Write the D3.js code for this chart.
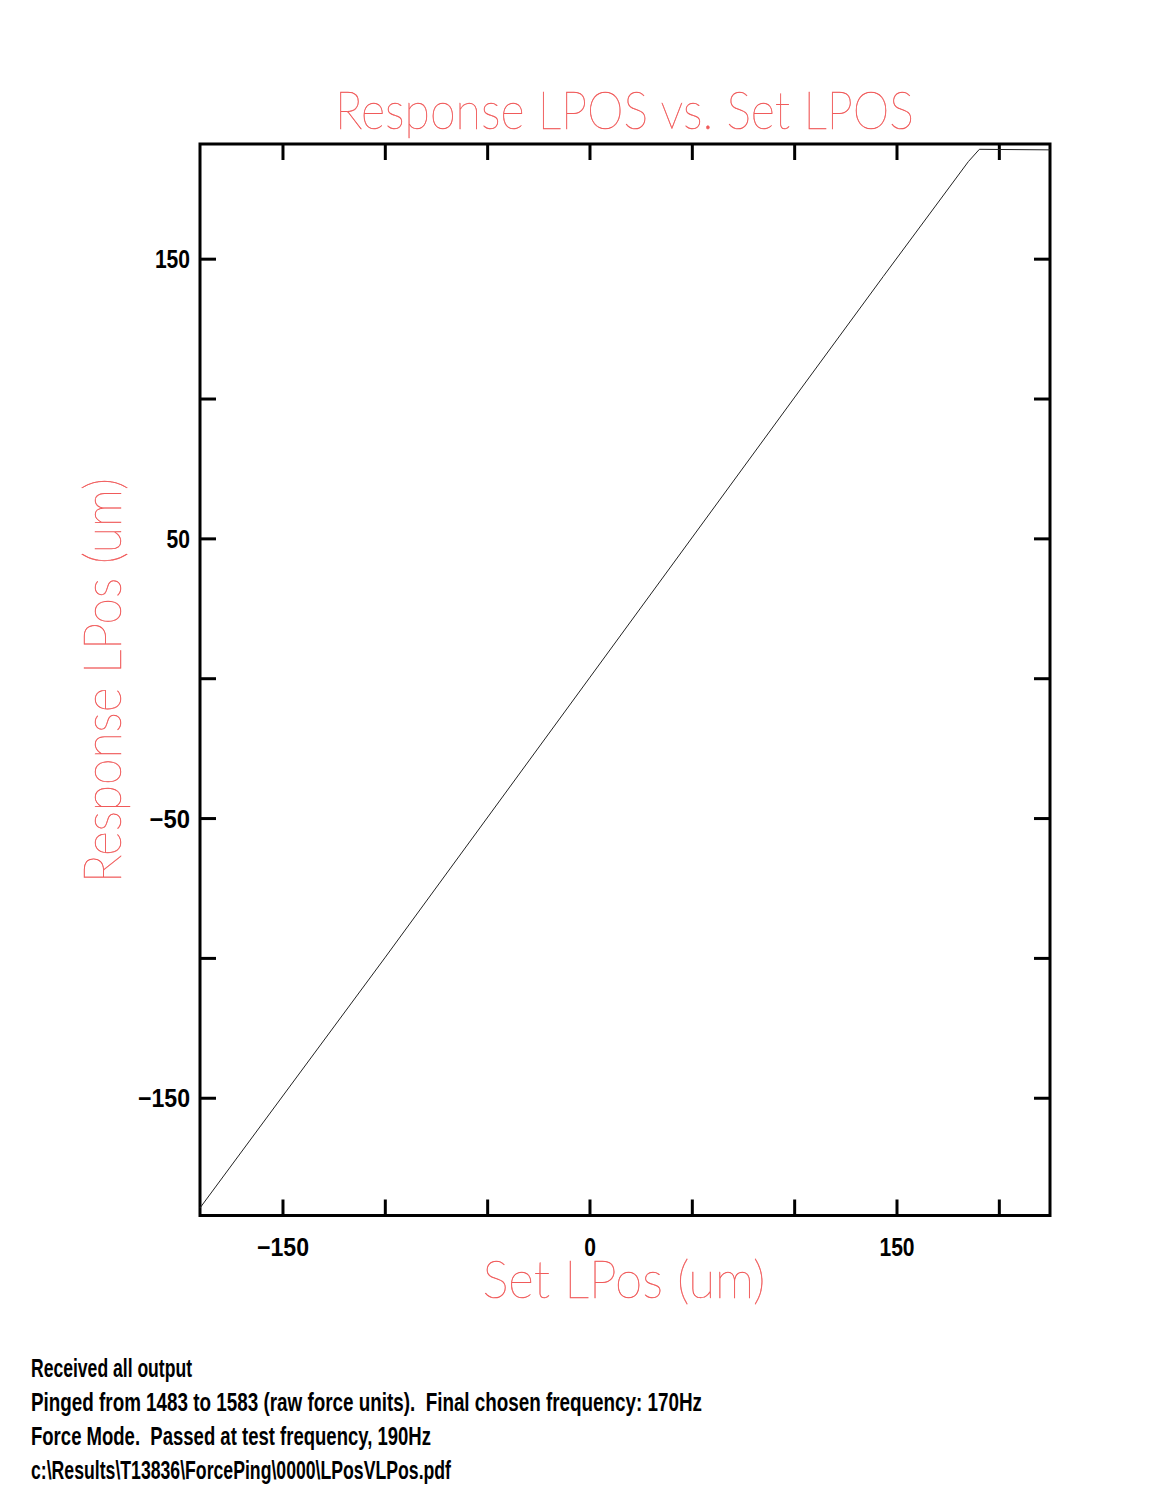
<!DOCTYPE html>
<html lang="en">
<head>
  <meta charset="UTF-8" />
  <title>Response LPOS vs. Set LPOS</title>
  <style>
    body { margin: 0; background: #fff; }
    svg { display: block; }
    .tick text { font-family: 'Liberation Sans Narrow', 'Arial Narrow', 'Liberation Sans', sans-serif;
                 font-weight: bold; font-size: 25px; fill: #000; }
    .tick line { stroke: #000; stroke-width: 3; }
    .domain { display: none; }
    .thin { font-family: 'Lato', 'Open Sans', 'Roboto', sans-serif; font-weight: 200;
            fill: #f05a5a; stroke: #f05a5a; stroke-width: 0.45; }
    .note { font-family: 'Liberation Sans Narrow', 'Arial Narrow', 'Liberation Sans', sans-serif; font-weight: bold;
            font-size: 25px; fill: #000; white-space: pre; }
  </style>
</head>
<body>
<div id="chart"></div>
<script src="https://d3js.org/d3.v7.min.js"></script>
<script>
  // values (um)
  const setLPos      = [-190.3, -100, 0, 100, 143.5, 185.1, 190.5, 225];
  const responseLPos = [-189.4, -100, 0.1, 100.2, 143.6, 184.7, 189.1, 188.9];

  const xTicks = [-150, -100, -50, 0, 50, 100, 150, 200];
  const xLabeled = [-150, 0, 150];
  const yTicks = [-150, -100, -50, 0, 50, 100, 150];
  const yLabeled = [-150, -50, 50, 150];

  const title = "Response LPOS vs. Set LPOS";
  const xTitle = "Set LPos (um)";
  const yTitle = "Response LPos (um)";
  const notes = [
    "Received all output",
    "Pinged from 1483 to 1583 (raw force units).  Final chosen frequency: 170Hz",
    "Force Mode.  Passed at test frequency, 190Hz",
    "c:\\Results\\T13836\\ForcePing\\0000\\LPosVLPos.pdf"
  ];
  const noteWidths = [161, 671, 400, 420];

  const W = 1172, H = 1490;
  const plot = { left: 200, right: 1050, top: 144, bottom: 1215.5 };

  const svg = d3.select("#chart").append("svg")
    .attr("width", W).attr("height", H);

  const x = d3.scaleLinear().domain([-190.3, 225]).range([plot.left, plot.right]);
  const y = d3.scaleLinear().domain([-192.1, 191]).range([plot.bottom, plot.top]);

  const fmt = d3.format("d");
  const tickLen = 16;
  // narrow look for tick labels: minus about 17px, digits about 11.7px
  const labelWidth = s => s.length === 0 ? null : (s.startsWith("\u2212") ? 17 + 11.7 * (s.length - 1) : 11.7 * s.length);

  // bottom axis with labels
  const gx = svg.append("g")
    .attr("transform", `translate(0,${plot.bottom})`)
    .call(d3.axisBottom(x).tickValues(xTicks).tickSize(-tickLen)
      .tickFormat(d => xLabeled.includes(d) ? fmt(d) : ""));
  gx.selectAll("text").attr("y", 40).attr("dy", null);

  // top axis, ticks only
  svg.append("g")
    .attr("transform", `translate(0,${plot.top})`)
    .call(d3.axisTop(x).tickValues(xTicks).tickSize(-tickLen).tickFormat(""));

  // left axis with labels
  const gy = svg.append("g")
    .attr("transform", `translate(${plot.left},0)`)
    .call(d3.axisLeft(y).tickValues(yTicks).tickSize(-tickLen)
      .tickFormat(d => yLabeled.includes(d) ? fmt(d) : ""));
  gy.selectAll("text").attr("x", -10).attr("dy", "0.36em");

  svg.selectAll(".tick text")
    .attr("textLength", function() { return labelWidth(this.textContent); })
    .attr("lengthAdjust", "spacingAndGlyphs");

  // right axis, ticks only
  svg.append("g")
    .attr("transform", `translate(${plot.right},0)`)
    .call(d3.axisRight(y).tickValues(yTicks).tickSize(-tickLen).tickFormat(""));

  // frame
  svg.append("rect")
    .attr("x", plot.left).attr("y", plot.top)
    .attr("width", plot.right - plot.left).attr("height", plot.bottom - plot.top)
    .attr("fill", "none").attr("stroke", "#000").attr("stroke-width", 3);

  // data line
  const line = d3.line().x(d => x(d[0])).y(d => y(d[1]));
  svg.append("path")
    .datum(d3.zip(setLPos, responseLPos))
    .attr("d", line)
    .attr("fill", "none")
    .attr("stroke", "#222")
    .attr("stroke-width", 1);

  // titles
  svg.append("text").attr("class", "thin")
    .attr("x", 335).attr("y", 128.5)
    .attr("font-size", 52)
    .attr("textLength", 579).attr("lengthAdjust", "spacingAndGlyphs")
    .text(title);

  svg.append("text").attr("class", "thin")
    .attr("x", 482.5).attr("y", 1297.5)
    .attr("font-size", 52)
    .attr("textLength", 283).attr("lengthAdjust", "spacingAndGlyphs")
    .text(xTitle);

  svg.append("text").attr("class", "thin")
    .attr("transform", "translate(121,883) rotate(-90)")
    .attr("font-size", 52)
    .attr("textLength", 405).attr("lengthAdjust", "spacingAndGlyphs")
    .text(yTitle);

  // footer notes
  svg.selectAll("text.note")
    .data(notes)
    .enter().append("text")
    .attr("class", "note")
    .attr("x", 31)
    .attr("y", (d, i) => 1377 + i * 34)
    .attr("textLength", (d, i) => noteWidths[i])
    .attr("lengthAdjust", "spacingAndGlyphs")
    .text(d => d);
</script>
</body>
</html>
